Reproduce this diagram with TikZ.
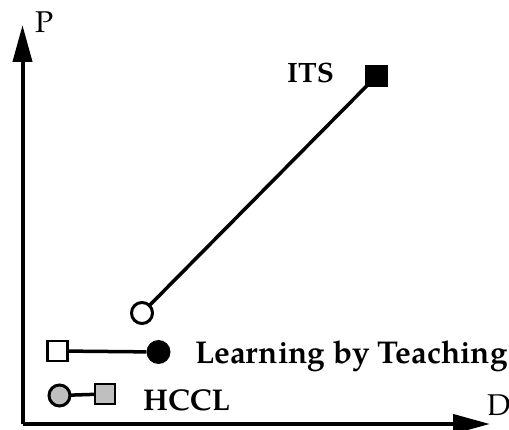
\documentclass[tikz,border=0pt]{standalone}
\usepackage{fontspec}
\setmainfont{TeX Gyre Pagella}
\usetikzlibrary{arrows.meta}
\definecolor{markgray}{RGB}{191,191,191}
\tikzset{
  axis/.style={line width=4pt, -{Triangle[length=37pt,width=19pt]}},
  link/.style={line width=3.5pt},
  sqmark/.style={draw, line width=2.5pt, minimum size=20pt, inner sep=0pt, outer sep=0pt},
  cimark/.style={circle, draw, line width=3pt, minimum size=21pt, inner sep=0pt, outer sep=0pt},
  lbl/.style={inner sep=0pt, anchor=base west, font=\fontsize{29}{31}\selectfont\bfseries},
  axlbl/.style={inner sep=0pt, anchor=base west, font=\fontsize{30}{32}\selectfont},
}
\begin{document}
\begin{tikzpicture}[x=1pt,y=-1pt]
  \useasboundingbox (0,0) rectangle (509,430);
  % axes
  \coordinate (o) at (22.5,424);
  \coordinate (ptop) at (22.5,25);
  \coordinate (dend) at (490,424);
  \draw[axis] (o) -- (ptop);
  \draw[axis] (o) -- (dend);
  \node[axlbl] (plbl) at (35,33) {P};
  \node[axlbl] (dlbl) at (487,416) {D};
  % ITS
  \node[sqmark, fill=black, minimum size=20pt] (its) at (376.5,76) {};
  \node[cimark, fill=white] (itsc) at (142,313) {};
  \draw[link] (itsc) -- (its);
  \node[lbl, font=\fontsize{28}{30}\selectfont\bfseries] (itslbl) at (287,83) {ITS};
  % Learning by Teaching
  \node[sqmark, fill=white] (lbts) at (57.5,351) {};
  \node[circle, fill=black, minimum size=24pt, inner sep=0pt] (lbtc) at (158.5,352) {};
  \draw[link] (lbts) -- (lbtc);
  \node[lbl, font=\fontsize{31.5}{33}\selectfont\bfseries] (lbtlbl) at (195,363) {Learning by Teaching};
  % HCCL
  \node[cimark, fill=markgray] (hcc) at (59.5,395.5) {};
  \node[sqmark, fill=markgray] (hcs) at (105,394) {};
  \draw[link] (hcc) -- (hcs);
  \node[lbl, font=\fontsize{30}{32}\selectfont\bfseries] (hcllbl) at (143,410) {HCCL};
\end{tikzpicture}
\end{document}
